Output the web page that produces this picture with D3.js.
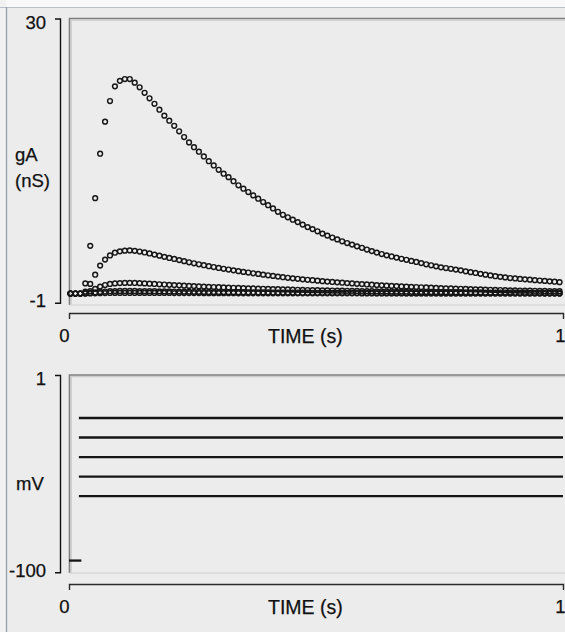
<!DOCTYPE html>
<html>
<head>
<meta charset="utf-8">
<script src="https://cdn.jsdelivr.net/npm/d3@7"></script>
<style>
  html, body { margin: 0; padding: 0; background: #ececec; }
  svg { display: block; font-family: "Liberation Sans", Arial, sans-serif; }
</style>
</head>
<body>
<svg id="chart" width="565" height="632"></svg>
<script>
// ---- Data -------------------------------------------------------------
// Conductance gA (nS) sampled every 10 ms, one trace per voltage step.
const sampleStart = 0.003;
const sampleStep = 0.01;

const gA_step1 = [
  0, 0, 0, 1.1, 5.2, 10.4, 15.25, 18.75, 21.0, 22.6,
  23.2, 23.4, 23.4, 23.0, 22.5, 21.9, 21.3, 20.7, 20.05, 19.4,
  18.85, 18.3, 17.7, 17.07, 16.48, 15.96, 15.47, 14.95, 14.43, 13.97,
  13.5, 13.07, 12.69, 12.25, 11.81, 11.43, 11.07, 10.7, 10.34, 9.98,
  9.63, 9.28, 8.92, 8.59, 8.32, 8.05, 7.79, 7.52, 7.25, 7.03,
  6.79, 6.54, 6.32, 6.11, 5.9, 5.7, 5.51, 5.34, 5.15, 4.99,
  4.8, 4.63, 4.47, 4.31, 4.17, 4.04, 3.92, 3.79, 3.68, 3.55,
  3.44, 3.32, 3.19, 3.08, 2.97, 2.86, 2.78, 2.7, 2.61, 2.53,
  2.42, 2.33, 2.24, 2.15, 2.06, 1.98, 1.89, 1.82, 1.76, 1.69,
  1.64, 1.59, 1.55, 1.51, 1.46, 1.42, 1.38, 1.33, 1.29, 1.24
];
const gA_step2 = [
  0, 0, 0, 0.2, 1.05, 2.05, 3.05, 3.7, 4.15, 4.45,
  4.6, 4.68, 4.7, 4.66, 4.58, 4.48, 4.37, 4.25, 4.13, 4.0,
  3.88, 3.77, 3.65, 3.53, 3.41, 3.3, 3.19, 3.09, 2.98, 2.89,
  2.79, 2.7, 2.62, 2.53, 2.44, 2.36, 2.29, 2.21, 2.14, 2.06,
  1.99, 1.92, 1.85, 1.78, 1.72, 1.66, 1.61, 1.55, 1.5, 1.45,
  1.4, 1.35, 1.3, 1.26, 1.22, 1.18, 1.14, 1.1, 1.06, 1.03,
  0.99, 0.96, 0.92, 0.89, 0.86, 0.83, 0.81, 0.78, 0.76, 0.73,
  0.71, 0.68, 0.66, 0.64, 0.61, 0.59, 0.57, 0.56, 0.54, 0.52,
  0.5, 0.48, 0.46, 0.44, 0.42, 0.41, 0.39, 0.38, 0.36, 0.35,
  0.34, 0.33, 0.32, 0.31, 0.3, 0.29, 0.28, 0.27, 0.27, 0.26
];
const gA_step3 = [
  0, 0, 0, 0.05, 0.26, 0.51, 0.76, 0.93, 1.04, 1.1,
  1.14, 1.16, 1.16, 1.15, 1.13, 1.1, 1.07, 1.04, 1.01, 0.98,
  0.95, 0.92, 0.89, 0.86, 0.83, 0.81, 0.78, 0.76, 0.73, 0.71,
  0.69, 0.67, 0.65, 0.63, 0.61, 0.59, 0.57, 0.55, 0.53, 0.52,
  0.5, 0.48, 0.47, 0.45, 0.44, 0.42, 0.41, 0.4, 0.38, 0.37,
  0.36, 0.35, 0.34, 0.33, 0.32, 0.31, 0.3, 0.29, 0.28, 0.27,
  0.26, 0.25, 0.24, 0.24, 0.23, 0.22, 0.21, 0.21, 0.2, 0.19,
  0.19, 0.18, 0.18, 0.17, 0.16, 0.16, 0.15, 0.15, 0.14, 0.14,
  0.13, 0.13, 0.12, 0.12, 0.11, 0.11, 0.11, 0.1, 0.1, 0.1,
  0.09, 0.09, 0.09, 0.08, 0.08, 0.08, 0.08, 0.07, 0.07, 0.07
];
const gA_step4 = [
  0, 0, 0, 0.01, 0.06, 0.12, 0.18, 0.22, 0.25, 0.27,
  0.28, 0.28, 0.28, 0.28, 0.27, 0.26, 0.26, 0.25, 0.24, 0.23,
  0.23, 0.22, 0.21, 0.2, 0.2, 0.19, 0.19, 0.18, 0.17, 0.17,
  0.16, 0.16, 0.15, 0.15, 0.14, 0.14, 0.13, 0.13, 0.12, 0.12,
  0.12, 0.11, 0.11, 0.1, 0.1, 0.1, 0.09, 0.09, 0.09, 0.08,
  0.08, 0.08, 0.08, 0.07, 0.07, 0.07, 0.07, 0.06, 0.06, 0.06,
  0.06, 0.06, 0.05, 0.05, 0.05, 0.05, 0.05, 0.05, 0.04, 0.04,
  0.04, 0.04, 0.04, 0.04, 0.04, 0.03, 0.03, 0.03, 0.03, 0.03,
  0.03, 0.03, 0.03, 0.03, 0.02, 0.02, 0.02, 0.02, 0.02, 0.02,
  0.02, 0.02, 0.02, 0.02, 0.02, 0.02, 0.02, 0.02, 0.02, 0.01
];
const gA_step5 = [
  0, 0, 0, 0, 0.01, 0.03, 0.04, 0.05, 0.06, 0.07,
  0.07, 0.07, 0.07, 0.07, 0.07, 0.07, 0.06, 0.06, 0.06, 0.06,
  0.06, 0.05, 0.05, 0.05, 0.05, 0.05, 0.05, 0.04, 0.04, 0.04,
  0.04, 0.04, 0.04, 0.04, 0.03, 0.03, 0.03, 0.03, 0.03, 0.03,
  0.03, 0.03, 0.03, 0.03, 0.02, 0.02, 0.02, 0.02, 0.02, 0.02,
  0.02, 0.02, 0.02, 0.02, 0.02, 0.02, 0.02, 0.02, 0.02, 0.01,
  0.01, 0.01, 0.01, 0.01, 0.01, 0.01, 0.01, 0.01, 0.01, 0.01,
  0.01, 0.01, 0.01, 0.01, 0.01, 0.01, 0.01, 0.01, 0.01, 0.01,
  0.01, 0.01, 0.01, 0.01, 0.01, 0.01, 0.01, 0.01, 0.01, 0.01,
  0.01, 0.01, 0.01, 0.01, 0.01, 0.01, 0, 0, 0, 0
];

// Command voltage (mV): holding level, then the five step levels.
const holdingVoltage = -94;
const stepVoltages = [-21, -31, -41, -51, -61];
const holdEnd = 0.025;
const stepStart = 0.02;
const stepEnd = 1;

// Axis ticks
const timeTicks = [0, 1];
const gTicks = [-1, 30];
const vTicks = [-100, 1];

// ---- Layout -----------------------------------------------------------
const W = 565, H = 632;
const svg = d3.select("#chart");
const FONT = '"Liberation Sans", Arial, sans-serif';
const INK = "#111";

const x = d3.scaleLinear().domain([0, 1]).range([69, 563]);
const yG = d3.scaleLinear().domain([-1, 30]).range([302.7, 18.5]);
const yV = d3.scaleLinear().domain([-100, 1]).range([572.3, 375]);

// window background and edges
svg.append("rect").attr("width", W).attr("height", H).attr("fill", "#ececec");
svg.append("rect").attr("width", W).attr("height", 7).attr("fill", "#f8f8f8");
svg.append("rect").attr("width", 6).attr("height", H).attr("fill", "#f1f1f1");
svg.append("line").attr("x1", 0).attr("x2", W).attr("y1", 7.5).attr("y2", 7.5)
  .attr("stroke", "#b8bfc6").attr("stroke-width", 1);
svg.append("line").attr("x1", 6.5).attr("x2", 6.5).attr("y1", 7).attr("y2", H)
  .attr("stroke", "#93a0ad").attr("stroke-width", 1.3);

// plot frames (left and top edges dark, bottom edge faint)
function frame(top, bottom) {
  const g = svg.append("g");
  g.append("path").attr("d", `M69.5,${bottom}V${top}H${W + 5}`)
    .attr("fill", "none").attr("stroke", "#7e7e7e").attr("stroke-width", 1.6);
  g.append("path").attr("d", `M71.2,${bottom}V${top + 1.7}H${W + 5}`)
    .attr("fill", "none").attr("stroke", "#c6c6c6").attr("stroke-width", 1);
  g.append("line").attr("x1", 69.5).attr("x2", W + 5).attr("y1", bottom).attr("y2", bottom)
    .attr("stroke", "#cfcfcf").attr("stroke-width", 1.2);
}
frame(18.5, 305);
frame(375, 573);

// shared text styling: slightly heavier than the default rendering
function ink(sel, size) {
  return sel.attr("font-family", FONT).attr("font-size", size).attr("fill", INK)
    .attr("stroke", INK).attr("stroke-width", 0.25);
}

// y axis as a bracket with end ticks
function yAxis(scale, ticks) {
  const [lo, hi] = ticks;
  const g = svg.append("g").attr("transform", "translate(60,0)")
    .call(d3.axisLeft(scale).tickValues(ticks).tickSizeInner(0).tickSizeOuter(5)
      .tickPadding(14).tickFormat(d => String(d)));
  g.select(".domain").attr("stroke", INK).attr("stroke-width", 1.4);
  g.selectAll(".tick line").remove();
  ink(g.selectAll(".tick text"), 18.5)
    .attr("dy", d => d === hi ? "0.52em" : "0.22em");
  return g;
}
yAxis(yG, gTicks);
yAxis(yV, vTicks);

// x axis line with end ticks
function xAxis(yPos) {
  const g = svg.append("g").attr("transform", `translate(0,${yPos})`)
    .call(d3.axisBottom(x).tickValues(timeTicks).tickSizeInner(6).tickSizeOuter(6)
      .tickFormat(d => String(d)));
  g.select(".domain").attr("stroke", "#2a2a2a").attr("stroke-width", 1.4);
  g.selectAll(".tick line").remove();
  ink(g.selectAll(".tick text"), 18.5)
    .attr("y", 29).attr("dy", 0).attr("x", d => d === 0 ? -5 : -3);
  ink(g.append("text"), 19.5)
    .attr("text-anchor", "start")
    .attr("x", 268).attr("y", 29.7)
    .text("TIME (s)");
  return g;
}
xAxis(313);
xAxis(584);

// y-axis titles
function title(lines, x0, baselines) {
  lines.forEach((t, i) => {
    ink(svg.append("text"), 18.5).attr("x", x0).attr("y", baselines[i]).text(t);
  });
}
title(["gA", "(nS)"], 15, [161, 187]);
title(["mV"], 16, [490]);

// ---- Conductance traces (open circles) ---------------------------------
const gSeries = [gA_step5, gA_step4, gA_step3, gA_step2, gA_step1];
const times = gA_step1.map((_, i) => sampleStart + i * sampleStep);

const traces = svg.append("g");
gSeries.forEach(series => {
  traces.append("g").selectAll("circle")
    .data(series.map((v, i) => ({ t: times[i], v })))
    .join("circle")
    .attr("cx", d => x(d.t))
    .attr("cy", d => yG(d.v))
    .attr("r", 2.4)
    .attr("fill", "none")
    .attr("stroke", "#161616")
    .attr("stroke-width", 1.45);
});

// ---- Voltage command traces -------------------------------------------
const vLine = d3.line().x(d => x(d.t)).y(d => yV(d.v));
const vg = svg.append("g").attr("fill", "none").attr("stroke", "#141414").attr("stroke-width", 2.3);
vg.append("path").attr("d", vLine([{ t: 0, v: holdingVoltage }, { t: holdEnd, v: holdingVoltage }]));
stepVoltages.forEach(v => {
  vg.append("path").attr("d", vLine([{ t: stepStart, v }, { t: stepEnd, v }]));
});
</script>
</body>
</html>
